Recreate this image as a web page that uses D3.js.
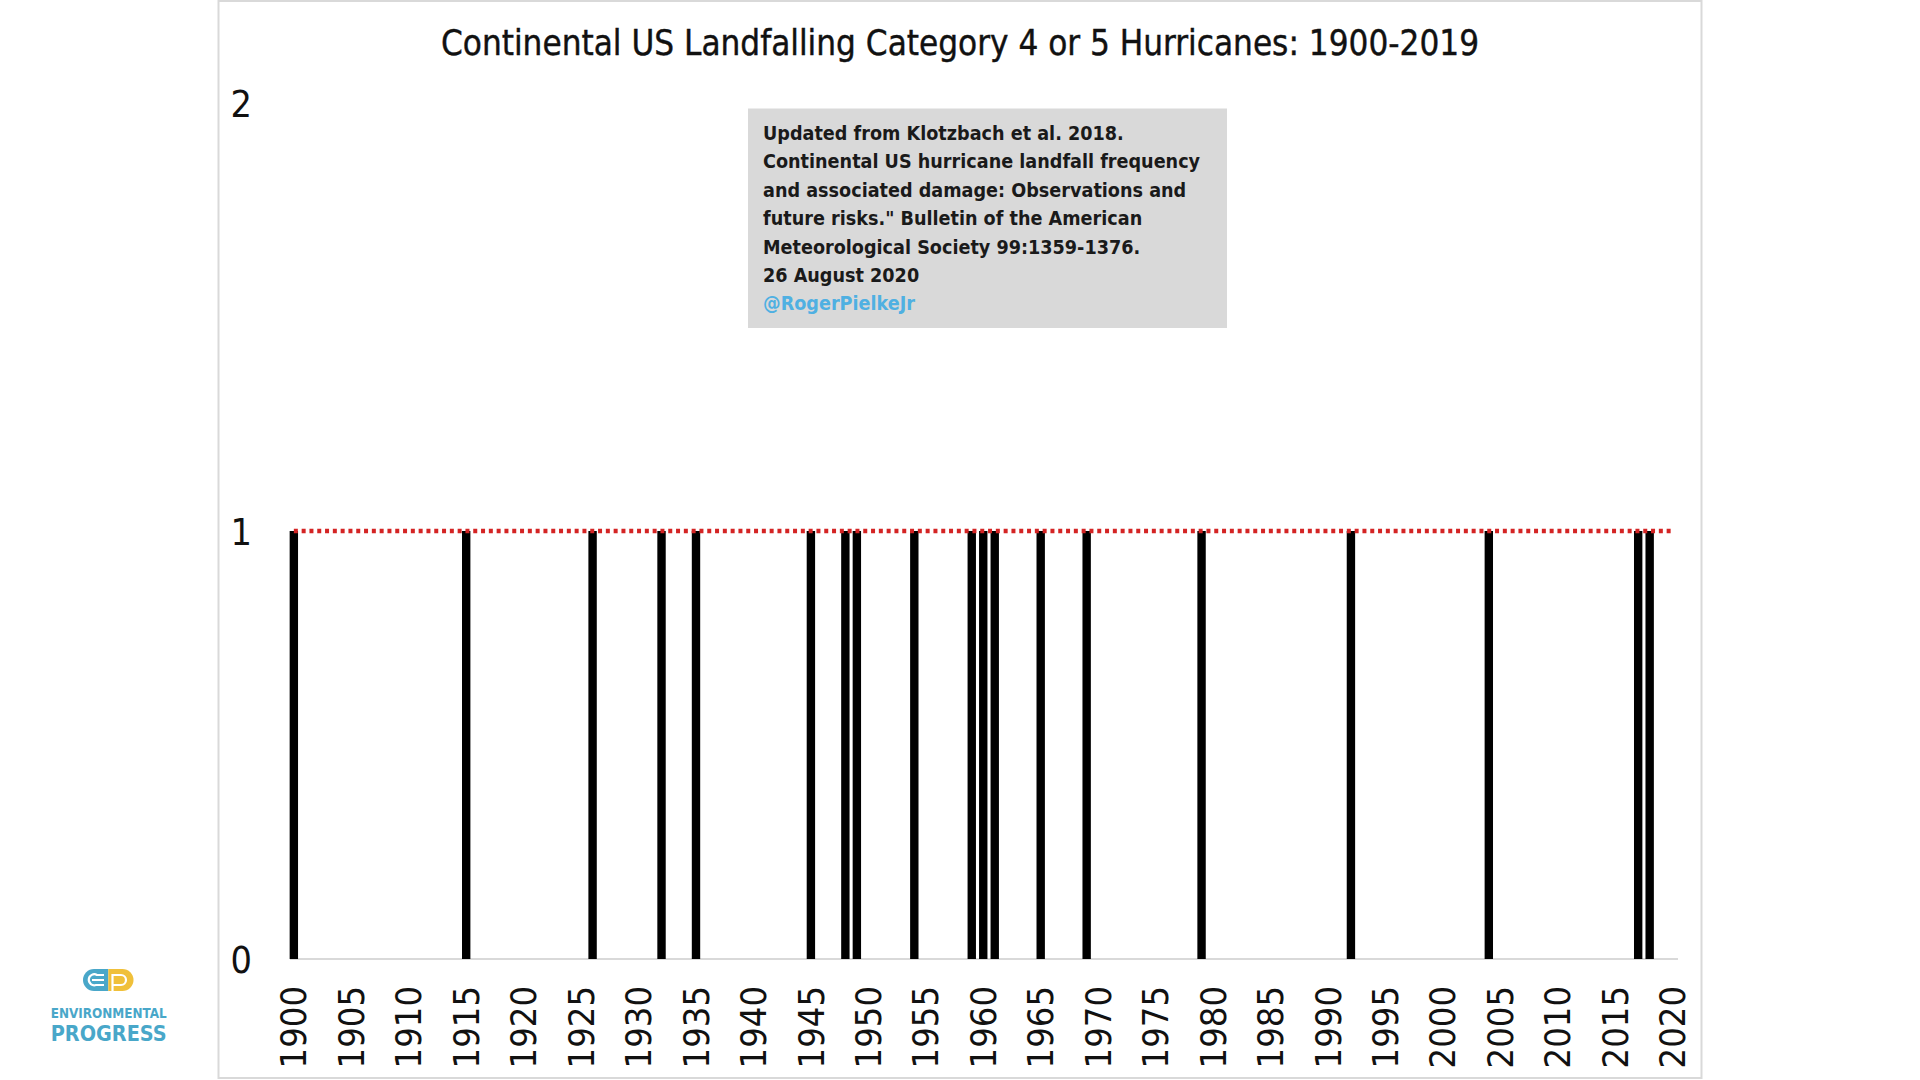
<!DOCTYPE html>
<html><head><meta charset="utf-8">
<script src="https://cdn.jsdelivr.net/npm/d3@7/dist/d3.min.js"></script>
<style>
html,body{margin:0;padding:0;background:#fff;}
svg{display:block;}
</style></head><body>
<svg id="chart" width="1920" height="1080"></svg>
<script>
// ---------- data ----------
const titleText = "Continental US Landfalling Category 4 or 5 Hurricanes: 1900-2019";
const years = [1900,1901,1902,1903,1904,1905,1906,1907,1908,1909,1910,1911,1912,1913,1914,1915,1916,1917,1918,1919,
1920,1921,1922,1923,1924,1925,1926,1927,1928,1929,1930,1931,1932,1933,1934,1935,1936,1937,1938,1939,
1940,1941,1942,1943,1944,1945,1946,1947,1948,1949,1950,1951,1952,1953,1954,1955,1956,1957,1958,1959,
1960,1961,1962,1963,1964,1965,1966,1967,1968,1969,1970,1971,1972,1973,1974,1975,1976,1977,1978,1979,
1980,1981,1982,1983,1984,1985,1986,1987,1988,1989,1990,1991,1992,1993,1994,1995,1996,1997,1998,1999,
2000,2001,2002,2003,2004,2005,2006,2007,2008,2009,2010,2011,2012,2013,2014,2015,2016,2017,2018,2019,2020];
const landfallYears  = [1900,1915,1926,1932,1935,1945,1948,1949,1954,1959,1960,1961,1965,1969,1979,1992,2004,2017,2018];
const landfallCounts = [1,   1,   1,   1,   1,   1,   1,   1,   1,   1,   1,   1,   1,   1,   1,   1,   1,   1,   1];
const referenceLevel = 1;
const xTickLabels = ["1900","1905","1910","1915","1920","1925","1930","1935","1940","1945","1950","1955",
"1960","1965","1970","1975","1980","1985","1990","1995","2000","2005","2010","2015","2020"];
const yTickValues = [0, 1, 2];
const noteLines = [
  "Updated from Klotzbach et al. 2018.",
  "Continental US hurricane landfall frequency",
  "and associated damage: Observations and",
  "future risks.\" Bulletin of the American",
  "Meteorological Society 99:1359-1376.",
  "26 August 2020"
];
const noteHandle = "@RogerPielkeJr";
const logoLines = ["ENVIRONMENTAL", "PROGRESS"];

// ---------- drawing ----------
const FONT = "'Liberation Sans Narrow','DejaVu Sans Condensed','Liberation Sans',sans-serif";
const svg = d3.select("#chart");

// frame
svg.append("rect").attr("x", 218.5).attr("y", 1).attr("width", 1483).attr("height", 1077)
  .attr("fill", "#fff").attr("stroke", "#d9d9d9").attr("stroke-width", 2);

const x = d3.scaleBand().domain(years).range([288.1, 1678.4]).paddingInner(0.27).paddingOuter(0.135);
const y = d3.scaleLinear().domain([0, 2]).range([959, 103]);

// title
svg.append("text").attr("x", 960).attr("y", 55).attr("text-anchor", "middle")
  .attr("font-family", FONT).attr("font-size", 35).attr("fill", "#111")
  .attr("stroke", "#111").attr("stroke-width", 0.4)
  .attr("textLength", 1038).attr("lengthAdjust", "spacingAndGlyphs").text(titleText);

// baseline
svg.append("line").attr("x1", 290).attr("x2", 1678).attr("y1", y(0)).attr("y2", y(0))
  .attr("stroke", "#d9d9d9").attr("stroke-width", 2);

// bars
const barData = landfallYears.map((yr, i) => ({year: yr, count: landfallCounts[i]}));
svg.append("g").selectAll("rect").data(barData).join("rect")
  .attr("x", d => x(d.year)).attr("width", x.bandwidth())
  .attr("y", d => y(d.count)).attr("height", d => y(0) - y(d.count))
  .attr("fill", "#000");

// reference dotted line
const lineData = [years[0], years[years.length - 1]];
svg.append("path")
  .attr("d", d3.line().x(d => x(d) + x.bandwidth() / 2).y(() => y(referenceLevel))(lineData))
  .attr("fill", "none").attr("stroke", "#d42424").attr("stroke-width", 4.4)
  .attr("stroke-dasharray", "4 3.8");

// x axis
const xAxis = d3.axisBottom(x).tickValues(xTickLabels.map(Number)).tickSize(0).tickFormat(d => String(d));
const gx = svg.append("g").attr("transform", "translate(0,986)").call(xAxis);
gx.select(".domain").remove();
gx.selectAll("text")
  .attr("font-family", FONT).attr("font-size", 36).attr("fill", "#111")
  .attr("transform", "rotate(-90)").attr("text-anchor", "end")
  .attr("x", 0).attr("y", 0).attr("dy", "0.35em");

// y axis
const yAxis = d3.axisLeft(y).tickValues(yTickValues).tickSize(0).tickFormat(d3.format("d"));
const gy = svg.append("g").attr("transform", "translate(252,0)").call(yAxis);
gy.select(".domain").remove();
gy.selectAll("text").attr("font-family", FONT).attr("font-size", 37.5).attr("fill", "#111")
  .attr("x", 0).attr("dy", "0.35em").attr("text-anchor", "end");

// note box
svg.append("rect").attr("x", 748).attr("y", 108.5).attr("width", 479).attr("height", 219.5).attr("fill", "#d9d9d9");
const note = svg.append("g").attr("font-family", FONT).attr("font-weight", "bold").attr("font-size", 19.6);
noteLines.concat([noteHandle]).forEach((s, i) => {
  note.append("text").attr("x", 763).attr("y", 140 + i * 28.4)
    .attr("fill", i === noteLines.length ? "#4fb0e2" : "#1a1a1a").text(s);
});

// logo
const logo = svg.append("g");
logo.append("path").attr("d", "M108.3,969 L94,969 A11,11 0 0 0 94,991 L108.3,991 Z").attr("fill", "#49a7c9");
logo.append("path").attr("d", "M108.3,969 L122.5,969 A11,11 0 0 1 122.5,991 L108.3,991 Z").attr("fill", "#f0c03a");
logo.append("path").attr("d", "M104,980 L92,980 M104,985 L96,985 A5.5,5.5 0 1 1 97,975 L104,975")
  .attr("fill", "none").attr("stroke", "#fff").attr("stroke-width", 2.2);
logo.append("path").attr("d", "M112.5,991 L112.5,975 L121,975 A5,5 0 0 1 121,985 L112.5,985")
  .attr("fill", "none").attr("stroke", "#fff").attr("stroke-width", 2.2);
logo.append("text").attr("x", 50.7).attr("y", 1018).attr("font-family", FONT).attr("font-weight", "bold")
  .attr("font-size", 14.5).attr("fill", "#49a7c9").attr("textLength", 116).attr("lengthAdjust", "spacingAndGlyphs").text(logoLines[0]);
logo.append("text").attr("x", 50.7).attr("y", 1041).attr("font-family", FONT).attr("font-weight", "bold")
  .attr("font-size", 21.5).attr("fill", "#49a7c9").attr("textLength", 116).attr("lengthAdjust", "spacingAndGlyphs").text(logoLines[1]);
</script>
</body></html>
